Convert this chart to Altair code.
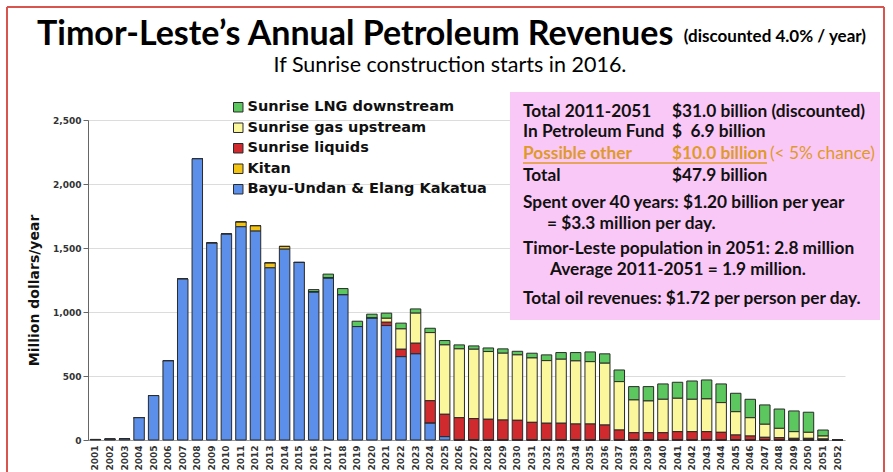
import altair as alt
import pandas as pd

# ---------------- data ----------------
years = [str(y) for y in range(2001, 2053)]

bayu_undan = [4, 6, 8, 174, 347, 618, 1257, 2197, 1538, 1608,
              1666, 1632, 1345, 1491, 1387, 1155, 1264, 1134, 886, 951,
              894, 651, 673, 131, 26] + [0] * 27
kitan = [0] * 10 + [36, 41, 37, 21] + [0] * 38
sunrise_liquids = [0] * 20 + [26, 58, 83, 176, 175, 174, 167, 162, 156, 154,
                              138, 131, 131, 125, 125, 117, 78, 57, 57, 57,
                              65, 65, 65, 60, 39, 31, 21, 18, 13, 13, 8, 0]
sunrise_upstream = [0] * 20 + [31, 159, 235, 532, 542, 538, 542, 529, 522, 511,
                               503, 489, 500, 493, 487, 483, 378, 256, 248, 261,
                               261, 253, 256, 232, 182, 143, 102, 73, 52, 47, 23, 0]
sunrise_downstream = [0] * 15 + [20, 32, 49, 42, 32, 40, 45, 33, 34, 34,
                                 31, 26, 28, 34, 28, 37, 45, 52, 65, 76,
                                 73, 91, 104, 112, 120, 125, 143, 148, 146, 144,
                                 144, 151, 151, 162, 157, 47, 0]

series_names = ["Sunrise LNG downstream", "Sunrise gas upstream", "Sunrise liquids",
                "Kitan", "Bayu-Undan & Elang Kakatua"]
series_colors = ["#5DC75F", "#FBF79C", "#D12A2E", "#F2C313", "#5B8FEA"]
stack_rank = [4, 3, 2, 1, 0]
series_values = [sunrise_downstream, sunrise_upstream, sunrise_liquids, kitan, bayu_undan]

rows = []
for name, rank, vals in zip(series_names, stack_rank, series_values):
    for yr, v in zip(years, vals):
        rows.append({"year": yr, "series": name, "rank": rank, "value": v})
df = pd.DataFrame(rows)

# ---------------- layout helpers ----------------
OX, OY = 88, 120  # plot origin in page pixels
W, H = 757, 320


def txt(text, ax, ay, size, weight="bold", color="#111111", font="Lato", align="left"):
    return alt.Chart(pd.DataFrame({"t": [text]})).mark_text(
        text=text, font=font, fontSize=size, fontWeight=weight, color=color,
        align=align, baseline="alphabetic"
    ).encode(x=alt.value(ax - OX), y=alt.value(ay - OY))


def rule(x1, y1, x2, y2, color, width):
    return alt.Chart(pd.DataFrame({"a": [0]})).mark_rule(color=color, strokeWidth=width).encode(
        x=alt.value(x1 - OX), x2=alt.value(x2 - OX), y=alt.value(y1 - OY), y2=alt.value(y2 - OY))


# ---------------- bars ----------------
bars = alt.Chart(df).mark_bar(stroke="#2a2a2a", strokeWidth=1).encode(
    x=alt.X("year:O", sort=years, title=None,
            scale=alt.Scale(paddingInner=0.28, paddingOuter=0.15),
            axis=alt.Axis(labelAngle=270, labelFont="DejaVu Sans", labelFontWeight="bold",
                          labelFontSize=9, labelColor="#333333", labelPadding=5,
                          ticks=False, domainColor="#9a9a9a", grid=False)),
    y=alt.Y("value:Q", stack="zero", title="Million dollars/year",
            scale=alt.Scale(domain=[0, 2500], nice=False),
            axis=alt.Axis(values=[0, 500, 1000, 1500, 2000, 2500], format=",d",
                          labelFont="DejaVu Sans", labelFontWeight="bold", labelFontSize=9,
                          labelColor="#333333", tickColor="#666666", tickSize=5,
                          domainColor="#666666", gridColor="#dcdcdc",
                          titleFont="DejaVu Sans", titleFontSize=14, titleFontWeight="bold",
                          titleColor="#111111", titlePadding=11, titleY=170)),
    color=alt.Color("series:N", scale=alt.Scale(domain=series_names, range=series_colors),
                    legend=alt.Legend(title=None, orient="none", legendX=143, legendY=-20,
                                      symbolType="square", symbolSize=90,
                                      symbolStrokeColor="#2a2a2a", symbolStrokeWidth=1,
                                      labelFont="DejaVu Sans", labelFontWeight="bold",
                                      labelFontSize=14.5, labelColor="#111111", labelLimit=400,
                                      rowPadding=5.5, labelOffset=2)),
    order=alt.Order("rank:Q", sort="ascending"),
)

# ---------------- annotation box ----------------
box = alt.Chart(pd.DataFrame({"a": [0]})).mark_rect(color="#FAC8F7").encode(
    x=alt.value(510 - OX), x2=alt.value(880 - OX), y=alt.value(92 - OY), y2=alt.value(320 - OY))

ORANGE = "#DE9A2A"
c1, c2 = 523, 672
FS = 17.3
notes = [
    txt("Total 2011-2051", c1, 117, FS),
    txt("$31.0 billion (discounted)", c2, 117, FS),
    txt("In Petroleum Fund", c1, 137, FS),
    txt("$\u00a0\u00a06.9 billion", c2, 137, FS),
    txt("Possible other", c1, 159, FS, color=ORANGE),
    txt("$10.0 billion", c2, 159, FS, color=ORANGE),
    txt("(< 5% chance)", 770, 159, FS, weight="normal", color=ORANGE),
    rule(523, 163, 767, 163, ORANGE, 1.5),
    txt("Total", c1, 181, FS),
    txt("$47.9 billion", c2, 181, FS),
    txt("Spent over 40 years: $1.20 billion per year", c1, 208, FS),
    txt("= $3.3 million per day.", 547, 229, FS),
    txt("Timor-Leste population in 2051: 2.8 million", c1, 254, FS),
    txt("Average 2011-2051 = 1.9 million.", 550, 275, FS),
    txt("Total oil revenues: $1.72 per person per day.", c1, 304, FS),
]

# ---------------- titles & frame ----------------
titles = [
    txt("Timor-Leste\u2019s Annual Petroleum Revenues", 37, 45, 34, color="#000000"),
    txt("(discounted 4.0% / year)", 866, 42, 17, color="#000000", align="right"),
    txt("If Sunrise construction starts in 2016.", 450, 72, 21.5, weight="normal",
        color="#000000", align="center"),
]
RED = "#D9534F"
frame = [
    rule(7, 7, 884, 7, RED, 2),
    rule(7, 7, 7, 472, RED, 2),
    rule(884, 7, 884, 472, RED, 2),
]

chart = alt.layer(box, bars, *notes, *titles, *frame).properties(
    width=W, height=H,
    padding={"left": OX, "top": OY, "right": 893 - OX - W, "bottom": 472 - OY - H},
    autosize=alt.AutoSizeParams(type="none"),
    background="white",
).configure_view(stroke=None)

chart.save("out.html", embed_options={"renderer": "svg", "actions": False})
